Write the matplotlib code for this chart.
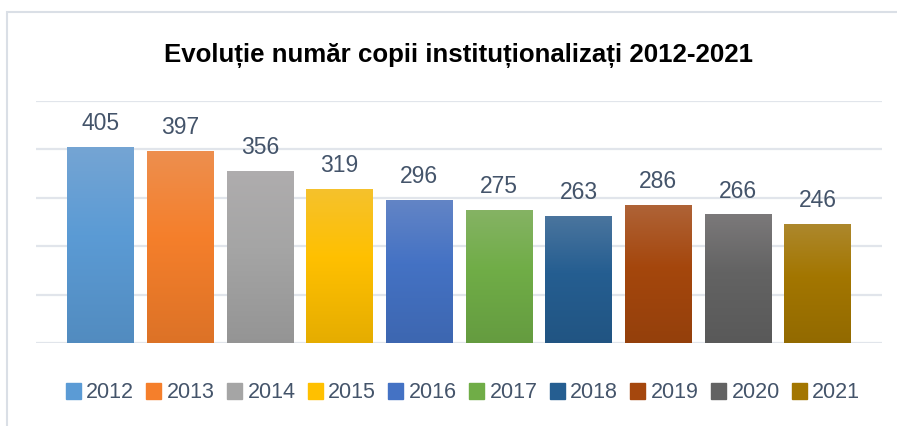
import matplotlib
matplotlib.use("Agg")
import matplotlib.pyplot as plt
from matplotlib.patches import Rectangle
from matplotlib.colors import to_rgb
import numpy as np

# date
ani = ["2012", "2013", "2014", "2015", "2016", "2017", "2018", "2019", "2020", "2021"]
copii = [405, 397, 356, 319, 296, 275, 263, 286, 266, 246]

# culori de baza (tema Office)
culori = ["#5B9BD5", "#F57F2B", "#A5A5A5", "#FFC000", "#4472C4",
          "#70AD47", "#255E91", "#A5470D", "#636363", "#A37600"]

text_col = "#44546A"
grid_col = "#E1E5EB"


def gradient(base, n=100):
    # sus mai deschis, la mijloc culoarea, jos mai inchis
    c = np.array(to_rgb(base))
    sus = c * 0.78 + np.array([0.82, 0.78, 0.80]) * 0.22
    jos = c * 0.9
    t = np.linspace(0, 1, n)[:, None]
    rez = np.where(t < 0.45,
                   sus + (c - sus) * (t / 0.45),
                   c + (jos - c) * ((t - 0.45) / 0.55))
    return rez[:, None, :]


fig = plt.figure(figsize=(8.97, 4.26), dpi=100)
ax = fig.add_axes([36 / 897, 83 / 426, 846 / 897, 242 / 426])

x = np.arange(len(ani))
bare = ax.bar(x, copii, width=0.83, color="none", zorder=3)
for b, col in zip(bare, culori):
    bx, by = b.get_x(), b.get_y()
    w, h = b.get_width(), b.get_height()
    im = ax.imshow(gradient(col), extent=[bx, bx + w, by, by + h],
                   aspect="auto", zorder=3, interpolation="bilinear")
    im.set_clip_path(b)

for xi, v in zip(x, copii):
    ax.annotate(str(v), (xi, v), xytext=(0, 12), textcoords="offset points",
                ha="center", va="baseline", fontsize=16.5, color=text_col,
                family="Liberation Sans")

ax.set_xlim(-0.81, 9.81)
ax.set_ylim(0, 500)
ax.set_yticks(range(0, 501, 100))
ax.yaxis.grid(True, color=grid_col, lw=1.6, zorder=0)
ax.tick_params(left=False, bottom=False, labelleft=False, labelbottom=False)
for s in ax.spines.values():
    s.set_visible(False)

fig.text(458 / 897, 364 / 426, "Evoluție număr copii instituționalizați 2012-2021",
         ha="center", va="baseline", fontsize=18.6, fontweight="bold",
         color="black", family="Liberation Sans")

handles = [Rectangle((0, 0), 1, 1, color=c) for c in culori]
fig.legend(handles, ani, ncol=10, loc="center",
           bbox_to_anchor=(463 / 897, 33 / 426), frameon=False,
           prop={"family": "Liberation Sans", "size": 15.5},
           labelcolor=text_col, handlelength=0.7, handleheight=0.7,
           handletextpad=0.25, columnspacing=0.57)

# chenarul graficului
fig.add_artist(Rectangle((7 / 897, -0.1), 1.2, 1.1 - 12 / 426,
                         transform=fig.transFigure, fill=False,
                         edgecolor="#DADFE6", lw=1.5))

fig.savefig("out.png", dpi=100)
